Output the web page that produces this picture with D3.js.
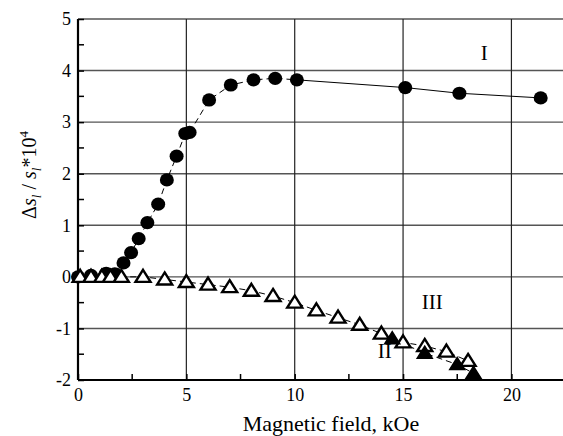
<!DOCTYPE html>
<html>
<head>
<meta charset="utf-8">
<script src="https://cdn.jsdelivr.net/npm/d3@7"></script>
<style>
  body { margin: 0; background: #fff; }
  svg text { font-family: "Liberation Serif", "Times New Roman", serif; fill: #000; }
</style>
</head>
<body>
<div id="chart"></div>
<script>
// Curve I (filled circles)
var fieldI = [0, 0.6, 1.3, 1.7, 2.1, 2.45, 2.8, 3.2, 3.7, 4.1, 4.55, 4.95, 5.15, 6.05, 7.05, 8.1, 9.1, 10.1, 15.1, 17.6, 21.35];
var valueI = [0, 0.03, 0.07, 0.06, 0.27, 0.47, 0.74, 1.05, 1.41, 1.88, 2.34, 2.78, 2.8, 3.43, 3.72, 3.82, 3.85, 3.82, 3.67, 3.56, 3.47];
// where curve I switches from dashed to solid
var solidFromI = 10.1;

// Curve III (open triangles)
var fieldIII = [0.1, 0.6, 1.1, 1.5, 2.0, 3.0, 4.0, 5.0, 6.0, 7.0, 8.0, 9.0, 10, 11, 12, 13, 14, 15, 16, 17, 18];
var valueIII = [0, 0, 0, 0, 0, 0, -0.05, -0.1, -0.15, -0.2, -0.27, -0.37, -0.5, -0.65, -0.79, -0.93, -1.1, -1.27, -1.34, -1.45, -1.63];

// Curve II (filled triangles), starts off curve III at 14 kOe
var fieldII = [14.5, 16, 17.5, 18.25];
var valueII = [-1.2, -1.48, -1.7, -1.87];

var xMajor = [0, 5, 10, 15, 20];
var xMinor = [2.5, 7.5, 12.5, 17.5];
var yMajor = [-2, -1, 0, 1, 2, 3, 4, 5];
var yMinor = [-1.5, -0.5, 0.5, 1.5, 2.5, 3.5, 4.5];

var curveLabels = [
    {text: "I", x: 18.75, y: 4.2},
    {text: "III", x: 16.35, y: -0.62},
    {text: "II", x: 14.15, y: -1.57}
];

var W = 563, H = 436;
var margin = {left: 78, top: 19, right: 0, bottom: 56};
var iw = W - margin.left - margin.right;
var ih = H - margin.top - margin.bottom;
var serif = "'Liberation Serif', 'Times New Roman', serif";

var x = d3.scaleLinear().domain([0, 22.38]).range([0, iw]);
var y = d3.scaleLinear().domain([-2, 5]).range([ih, 0]);

var svg = d3.select("#chart").append("svg")
    .attr("width", W)
    .attr("height", H);

var g = svg.append("g")
    .attr("transform", "translate(" + margin.left + "," + margin.top + ")");

// grid
g.selectAll(".hgrid").data(yMajor).enter().append("line")
    .attr("x1", 0).attr("x2", iw)
    .attr("y1", function(d) { return y(d); })
    .attr("y2", function(d) { return y(d); })
    .attr("stroke", "#555")
    .attr("stroke-width", 1.4);

g.selectAll(".vgrid").data(xMajor.filter(function(d) { return d > 0; })).enter().append("line")
    .attr("y1", 0).attr("y2", ih)
    .attr("x1", function(d) { return x(d); })
    .attr("x2", function(d) { return x(d); })
    .attr("stroke", "#222")
    .attr("stroke-width", 1.2);

// axes (ticks drawn inward)
var fmt = function(d) { return String(d); };
var yAxis = d3.axisLeft(y).tickValues(yMajor).tickSize(-6).tickPadding(7).tickFormat(fmt);
var yAx = g.append("g").call(yAxis);
yAx.append("g").selectAll("line").data(yMinor).enter().append("line")
    .attr("x1", 0).attr("x2", 6)
    .attr("y1", function(d) { return y(d); })
    .attr("y2", function(d) { return y(d); })
    .attr("stroke", "#000").attr("stroke-width", 1.5);

var xAxis = d3.axisBottom(x).tickValues(xMajor).tickSize(-6).tickPadding(8).tickFormat(fmt);
var xAx = g.append("g").attr("transform", "translate(0," + ih + ")").call(xAxis);
xAx.append("g").selectAll("line").data(xMinor).enter().append("line")
    .attr("x1", function(d) { return x(d); })
    .attr("x2", function(d) { return x(d); })
    .attr("y1", 0).attr("y2", -6)
    .attr("stroke", "#000").attr("stroke-width", 1.5);

[yAx, xAx].forEach(function(a) {
    a.attr("font-family", serif).attr("font-size", 18);
    a.select(".domain").attr("stroke", "#000").attr("stroke-width", 2.2);
    a.selectAll(".tick line").attr("stroke", "#000").attr("stroke-width", 1.5);
    a.selectAll(".tick text")
	.style("font-family", serif)
	.style("font-size", "18px")
	.attr("fill", "#000");
});
xAx.select(".domain").attr("d", "M0,0H" + iw);
yAx.select(".domain").attr("d", "M0,0V" + ih);

// lines
var line = d3.line()
    .x(function(d) { return x(d[0]); })
    .y(function(d) { return y(d[1]); });

var ptsI = d3.zip(fieldI, valueI);
var ptsIII = d3.zip(fieldIII, valueIII);
var ptsII = d3.zip([fieldIII[16]].concat(fieldII), [valueIII[16]].concat(valueII));

g.append("path")
    .attr("d", line(ptsI.filter(function(d) { return d[0] <= solidFromI; })))
    .attr("fill", "none").attr("stroke", "#000").attr("stroke-width", 1)
    .attr("stroke-dasharray", "6,4");
g.append("path")
    .attr("d", line(ptsI.filter(function(d) { return d[0] >= solidFromI; })))
    .attr("fill", "none").attr("stroke", "#000").attr("stroke-width", 1);
g.append("path")
    .attr("d", line(ptsIII))
    .attr("fill", "none").attr("stroke", "#000").attr("stroke-width", 1)
    .attr("stroke-dasharray", "6,4");
g.append("path")
    .attr("d", line(ptsII))
    .attr("fill", "none").attr("stroke", "#000").attr("stroke-width", 1)
    .attr("stroke-dasharray", "6,4");

// markers
var tri = "M0,-7L7.5,5L-7.5,5Z";

g.selectAll(".ptI").data(ptsI).enter().append("ellipse")
    .attr("cx", function(d) { return x(d[0]); })
    .attr("cy", function(d) { return y(d[1]); })
    .attr("rx", 7).attr("ry", 6.6)
    .attr("fill", "#000");

g.selectAll(".ptIII").data(ptsIII).enter().append("path")
    .attr("d", tri)
    .attr("transform", function(d) { return "translate(" + x(d[0]) + "," + y(d[1]) + ")"; })
    .attr("fill", "#fff").attr("stroke", "#000").attr("stroke-width", 2.4)
    .attr("stroke-linejoin", "miter");

g.selectAll(".ptII").data(d3.zip(fieldII, valueII)).enter().append("path")
    .attr("d", tri)
    .attr("transform", function(d) { return "translate(" + x(d[0]) + "," + y(d[1]) + ")"; })
    .attr("fill", "#000").attr("stroke", "#000").attr("stroke-width", 1.5);

// curve labels
g.selectAll(".clabel").data(curveLabels).enter().append("text")
    .attr("x", function(d) { return x(d.x); })
    .attr("y", function(d) { return y(d.y); })
    .attr("text-anchor", "middle")
    .style("font-family", serif)
    .style("font-size", "21px")
    .text(function(d) { return d.text; });

// axis titles
svg.append("text")
    .attr("x", 331).attr("y", 431)
    .attr("text-anchor", "middle")
    .style("font-family", serif)
    .style("font-size", "22px")
    .text("Magnetic field, kOe");

var yt = svg.append("text")
    .attr("transform", "translate(36,175) rotate(-90)")
    .attr("text-anchor", "middle")
    .style("font-family", serif)
    .style("font-size", "20px");
yt.append("tspan").text("\u0394");
yt.append("tspan").style("font-style", "italic").text("s");
yt.append("tspan").style("font-style", "italic").style("font-size", "13px").attr("dy", 5).text("l");
yt.append("tspan").attr("dy", -5).text(" / ");
yt.append("tspan").style("font-style", "italic").text("s");
yt.append("tspan").style("font-style", "italic").style("font-size", "13px").attr("dy", 5).text("l");
yt.append("tspan").attr("dy", -5).text("*10");
yt.append("tspan").style("font-size", "13px").attr("dy", -8).text("4");
</script>
</body>
</html>
